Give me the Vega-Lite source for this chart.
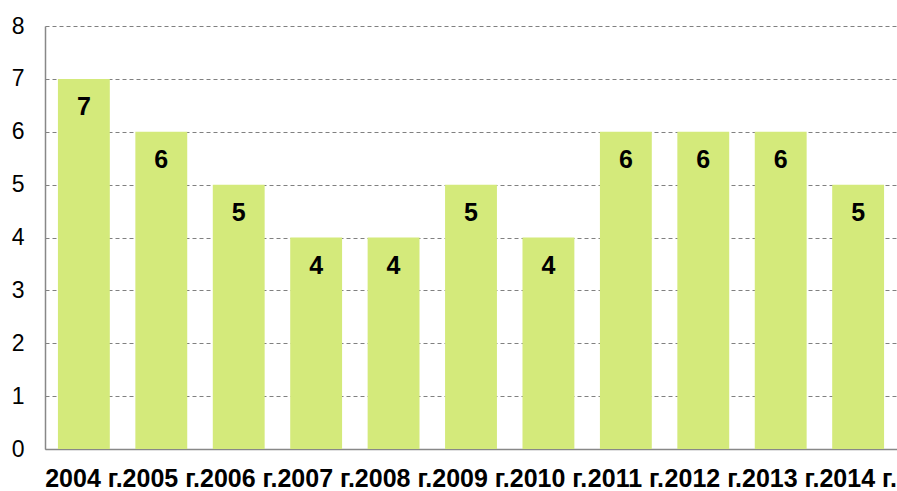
{
  "$schema": "https://vega.github.io/schema/vega-lite/v6.json",
  "autosize": "none",
  "width": 852,
  "height": 423,
  "padding": {"left": 45, "top": 26, "right": 0, "bottom": 42},
  "background": "white",
  "config": {"view": {"stroke": null}, "font": "Liberation Sans"},
  "data": {"values": [
    {"year": "2004 г.", "value": 7},
    {"year": "2005 г.", "value": 6},
    {"year": "2006 г.", "value": 5},
    {"year": "2007 г.", "value": 4},
    {"year": "2008 г.", "value": 4},
    {"year": "2009 г.", "value": 5},
    {"year": "2010 г.", "value": 4},
    {"year": "2011 г.", "value": 6},
    {"year": "2012 г.", "value": 6},
    {"year": "2013 г.", "value": 6},
    {"year": "2014 г.", "value": 5}
  ]},
  "encoding": {
    "x": {"field": "year", "type": "nominal", "sort": null,
      "scale": {"paddingInner": 0.33, "paddingOuter": 0.167},
      "axis": {"title": null, "labelAngle": 0, "labelFont": "Liberation Sans", "labelFontSize": 25, "labelFontWeight": "bold", "labelColor": "black", "ticks": false, "domain": true, "domainColor": "#888888", "domainWidth": 1.5, "labelPadding": 17, "labelOverlap": false, "labelBound": false, "labelFlush": false, "grid": false}},
    "y": {"field": "value", "type": "quantitative",
      "scale": {"domain": [0, 8], "nice": false},
      "axis": {"title": null, "values": [0,1,2,3,4,5,6,7,8], "labelFont": "Liberation Sans", "labelFontSize": 23, "labelColor": "black", "ticks": false, "labelPadding": 21, "domainColor": "#888888", "domainWidth": 1.5, "gridColor": "#808080", "gridDash": [4, 3], "gridWidth": 1}}
  },
  "layer": [
    {"mark": {"type": "bar", "color": "#d4ea7b"}},
    {"mark": {"type": "text", "baseline": "middle", "align": "center", "dy": 28, "fontSize": 25, "fontWeight": "bold", "font": "Liberation Sans", "color": "black"},
     "encoding": {"text": {"field": "value", "type": "quantitative"}}}
  ]
}
